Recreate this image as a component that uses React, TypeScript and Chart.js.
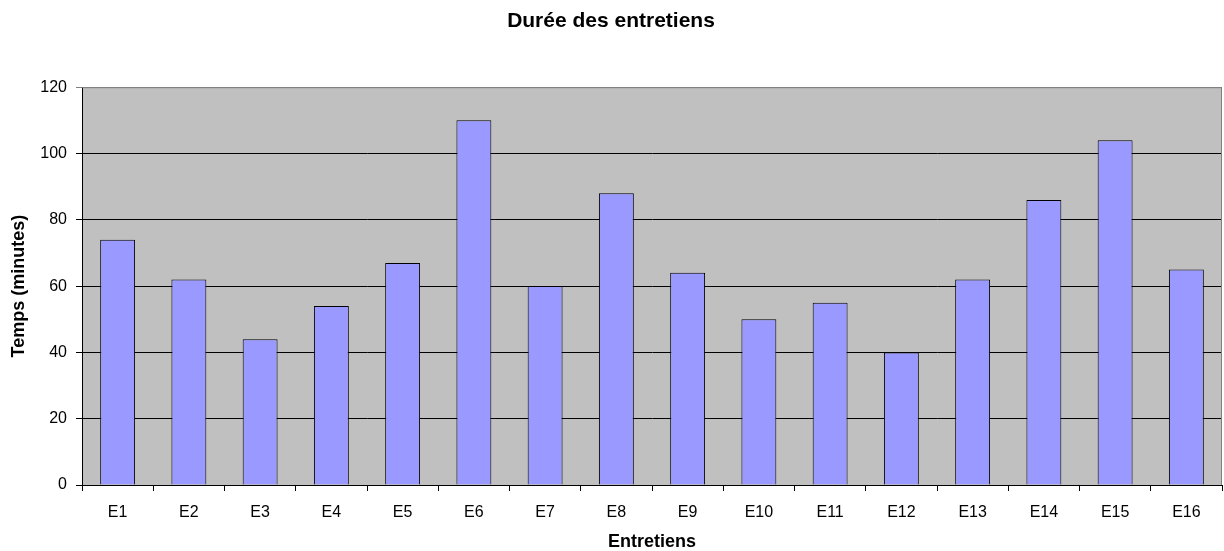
import React, { useEffect, useRef } from "react";
import { Chart, registerables } from "chart.js";

Chart.register(...registerables);

const categories = ["E1", "E2", "E3", "E4", "E5", "E6", "E7", "E8", "E9", "E10", "E11", "E12", "E13", "E14", "E15", "E16"];
const durations = [74, 62, 44, 54, 67, 110, 60, 88, 64, 50, 55, 40, 62, 86, 104, 65];
const chartTitle = "Durée des entretiens";
const xTitle = "Entretiens";
const yTitle = "Temps (minutes)";

const FONT = "'Liberation Sans', Arial, sans-serif";

const plotBg = {
  id: "plotBg",
  beforeDraw(chart: any) {
    const { ctx, chartArea: a } = chart;
    ctx.save();
    ctx.fillStyle = "#C0C0C0";
    ctx.fillRect(a.left, a.top, a.right - a.left, a.bottom - a.top);
    ctx.restore();
  },
  afterDatasetsDraw(chart: any) {
    const { ctx, chartArea: a } = chart;
    ctx.save();
    ctx.strokeStyle = "#808080";
    ctx.lineWidth = 1;
    ctx.beginPath();
    ctx.moveTo(a.left, a.top + 0.5);
    ctx.lineTo(a.right - 0.5, a.top + 0.5);
    ctx.lineTo(a.right - 0.5, a.bottom);
    ctx.stroke();
    ctx.restore();
  },
};

export default function App() {
  const ref = useRef<HTMLCanvasElement>(null);
  useEffect(() => {
    document.body.style.margin = "0";
    const chart = new Chart(ref.current!, {
      type: "bar",
      data: {
        labels: categories,
        datasets: [
          {
            data: durations,
            backgroundColor: "#9999FF",
            borderColor: "#000000",
            borderWidth: 1,
            barPercentage: 0.49,
            categoryPercentage: 1,
          },
        ],
      },
      options: {
        animation: false,
        responsive: false,
        layout: { padding: { left: 0, right: 2, top: 0, bottom: 0 } },
        plugins: {
          legend: { display: false },
          tooltip: { enabled: false },
          title: {
            display: true,
            text: chartTitle,
            color: "#000",
            font: { family: FONT, size: 21, weight: "bold" },
            padding: { top: 9, bottom: 53 },
          },
        },
        scales: {
          x: {
            offset: true,
            grid: {
              offset: true,
              drawOnChartArea: false,
              drawTicks: true,
              tickLength: 6,
              color: "#000",
            },
            border: { display: true, color: "#000", width: 1 },
            ticks: { color: "#000", font: { family: FONT, size: 16 }, padding: 12, maxRotation: 0 },
            title: {
              display: true,
              text: xTitle,
              color: "#000",
              font: { family: FONT, size: 18, weight: "bold", lineHeight: 1 },
              padding: { top: 0, bottom: 0 },
            },
            afterFit(scale: any) {
              scale.height = 66;
            },
          },
          y: {
            min: 0,
            max: 120,
            ticks: { stepSize: 20, color: "#000", font: { family: FONT, size: 16 }, padding: 9 },
            grid: {
              color: (c: any) => (c.tick && c.tick.value === 120 ? "#808080" : "#000"),
              tickLength: 6,
              drawTicks: true,
            },
            border: { display: true, color: "#000", width: 1 },
            title: {
              display: true,
              text: yTitle,
              color: "#000",
              font: { family: FONT, size: 18, weight: "bold", lineHeight: 1 },
              padding: { top: 10, bottom: 0 },
            },
            afterFit(scale: any) {
              scale.width = 82;
            },
          },
        },
      },
      plugins: [plotBg],
    });
    return () => chart.destroy();
  }, []);
  return (
    <div style={{ width: 1224, height: 551 }}>
      <canvas ref={ref} width={1224} height={551} style={{ display: "block" }} />
    </div>
  );
}
